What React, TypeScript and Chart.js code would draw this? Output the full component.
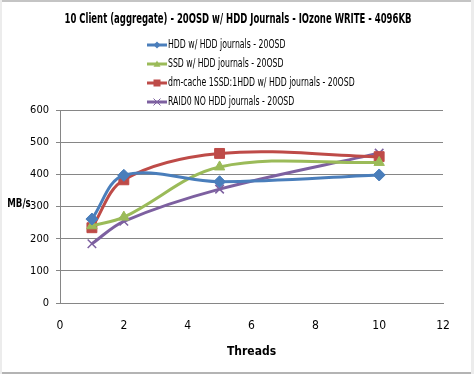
import React, { useEffect, useRef } from "react";
import { Chart, registerables } from "chart.js";

Chart.register(...registerables);

const chartTitle = "10 Client (aggregate) - 20OSD w/ HDD Journals - IOzone WRITE - 4096KB";
const xTitle = "Threads";
const yTitle = "MB/s";

const threads = [1, 2, 5, 10];
const seriesNames = [
  "HDD w/ HDD journals - 20OSD",
  "SSD w/ HDD journals - 20OSD",
  "dm-cache 1SSD:1HDD w/ HDD journals - 20OSD",
  "RAID0 NO HDD journals - 20OSD",
];
const hddValues = [261, 397, 377, 398];
const ssdValues = [240, 267, 423, 437];
const dmCacheValues = [234, 383, 465, 455];
const raid0Values = [184, 254, 354, 466];

const colors = ["#4A7EBB", "#9BBB59", "#BE4B48", "#7D60A0"];
const pointStyles = ["rectRot", "triangle", "rect", "crossRot"];
const pointRadii = [6, 6, 7, 6];

const FONT = "'DejaVu Sans Condensed', 'DejaVu Sans', sans-serif";

function squeezedText(ctx: CanvasRenderingContext2D, text: string, x: number, y: number, sx: number, align: "left" | "center") {
  ctx.save();
  ctx.translate(x, y);
  ctx.scale(sx, 1);
  ctx.textAlign = align;
  ctx.fillText(text, 0, 0);
  ctx.restore();
}

function drawPoint(ctx: CanvasRenderingContext2D, style: string, r: number, x: number, y: number) {
  ctx.beginPath();
  switch (style) {
    case "rectRot":
      ctx.moveTo(x, y - r);
      ctx.lineTo(x + r, y);
      ctx.lineTo(x, y + r);
      ctx.lineTo(x - r, y);
      ctx.closePath();
      ctx.fill();
      break;
    case "triangle":
      ctx.moveTo(x, y - r);
      ctx.lineTo(x + r, y + r * 0.8);
      ctx.lineTo(x - r, y + r * 0.8);
      ctx.closePath();
      ctx.fill();
      break;
    case "rect":
      ctx.rect(x - r, y - r, 2 * r, 2 * r);
      ctx.fill();
      break;
    case "crossRot":
      ctx.moveTo(x - r, y - r);
      ctx.lineTo(x + r, y + r);
      ctx.moveTo(x + r, y - r);
      ctx.lineTo(x - r, y + r);
      ctx.stroke();
      break;
  }
}

const framePlugin = {
  id: "frame",
  beforeDraw(chart: any) {
    const { ctx, width, height } = chart;
    ctx.save();
    ctx.fillStyle = "#ffffff";
    ctx.fillRect(0, 0, width, height);
    ctx.fillStyle = "#c4c4c4";
    ctx.fillRect(0, 0, width, 2);
    ctx.fillStyle = "#b4b4b4";
    ctx.fillRect(0, height - 2, width, 2);
    ctx.fillStyle = "#ececec";
    ctx.fillRect(0, 0, 2, height);
    ctx.fillRect(width - 3, 0, 3, height);
    ctx.restore();
  },
  afterDraw(chart: any) {
    const { ctx } = chart;
    ctx.save();
    ctx.fillStyle = "#000000";
    ctx.textBaseline = "middle";
    // chart title
    ctx.font = `bold 14px ${FONT}`;
    squeezedText(ctx, chartTitle, 238, 19, 0.675, "center");
    // y axis title, horizontal
    ctx.font = `bold 12px ${FONT}`;
    squeezedText(ctx, yTitle, 19, 204, 0.8, "center");
    // legend
    const x0 = 147;
    const y0 = 45;
    const step = 19;
    ctx.font = `12px ${FONT}`;
    chart.data.datasets.forEach((ds: any, i: number) => {
      const y = y0 + i * step;
      ctx.strokeStyle = ds.borderColor;
      ctx.lineWidth = 3;
      ctx.beginPath();
      ctx.moveTo(x0, y);
      ctx.lineTo(x0 + 20, y);
      ctx.stroke();
      ctx.fillStyle = ds.borderColor;
      ctx.lineWidth = 1;
      drawPoint(ctx, ds.pointStyle, 3.5, x0 + 10, y);
      ctx.fillStyle = "#000000";
      squeezedText(ctx, ds.label, x0 + 21, y, 0.72, "left");
    });
    ctx.restore();
  },
};

export default function App() {
  const canvasRef = useRef<HTMLCanvasElement | null>(null);

  useEffect(() => {
    if (!canvasRef.current) return;
    const allValues = [hddValues, ssdValues, dmCacheValues, raid0Values];
    const chart = new Chart(canvasRef.current, {
      type: "line",
      data: {
        datasets: allValues.map((vals, i) => ({
          label: seriesNames[i],
          data: threads.map((t, j) => ({ x: t, y: vals[j] })),
          borderColor: colors[i],
          backgroundColor: colors[i],
          pointBackgroundColor: colors[i],
          pointBorderColor: colors[i],
          pointStyle: pointStyles[i] as any,
          pointRadius: pointRadii[i],
          pointBorderWidth: pointStyles[i] === "crossRot" ? 1.5 : 1,
          borderWidth: 3,
          tension: 0.35,
          fill: false,
        })),
      },
      options: {
        responsive: false,
        animation: false,
        layout: { padding: { left: 0, right: 31, top: 110, bottom: 0 } },
        plugins: {
          legend: { display: false },
          tooltip: { enabled: false },
          title: { display: false },
        },
        scales: {
          x: {
            type: "linear",
            min: 0,
            max: 12,
            ticks: { stepSize: 2, color: "#000000", font: { family: FONT, size: 12 }, padding: 11, maxRotation: 0 },
            grid: { display: false, drawOnChartArea: false, drawTicks: true, tickLength: 5, tickColor: "#868686" },
            border: { display: true, color: "#868686", width: 1 },
            title: {
              display: true,
              text: xTitle,
              color: "#000000",
              font: { family: FONT, size: 12, weight: "bold" },
              padding: { top: 2, bottom: 15 },
            },
            afterFit(scale: any) {
              scale.height = 71;
            },
          },
          y: {
            min: 0,
            max: 600,
            ticks: { stepSize: 100, color: "#000000", font: { family: FONT, size: 11 }, padding: 7 },
            grid: { color: "#868686", lineWidth: 1, tickLength: 4, tickColor: "#868686" },
            border: { display: true, color: "#868686", width: 1 },
            afterFit(scale: any) {
              scale.width = 60;
            },
          },
        },
      },
      plugins: [framePlugin],
    });
    return () => chart.destroy();
  }, []);

  return (
    <div style={{ position: "fixed", left: 0, top: 0, width: 474, height: 374 }}>
      <canvas ref={canvasRef} width={474} height={374} style={{ display: "block" }} />
    </div>
  );
}
